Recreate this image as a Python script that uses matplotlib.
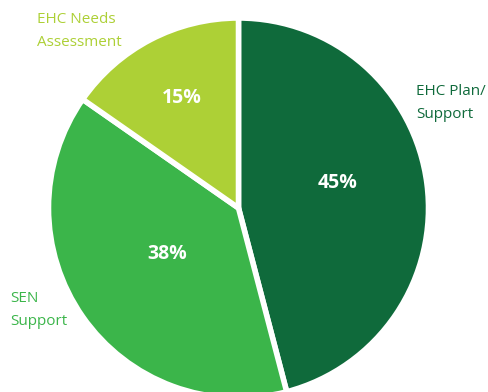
import numpy as np
import matplotlib
matplotlib.use('Agg')
import matplotlib.pyplot as plt

plt.rcParams['font.family'] = ['Open Sans', 'DejaVu Sans']

# slice data, clockwise from 12 o'clock
labels = ['EHC Plan/\nSupport', 'SEN\nSupport', 'EHC Needs\nAssessment']
values = [45, 38, 15]
colors = ['#0f6a3b', '#3bb54a', '#add036']
pct_xy = [(338, 183), (167, 254), (182, 98)]
label_xy = [(416, 103), (10, 310), (37, 31)]

W, H = 488, 392
fig = plt.figure(figsize=(W/100, H/100), dpi=100)
ax = fig.add_axes([0, 0, 1, 1])

cx, cy, r = 238.5, H - 208, 190
wedges, _ = ax.pie(values, colors=colors, startangle=90, counterclock=False,
                   center=(cx, cy), radius=r, frame=True,
                   wedgeprops=dict(edgecolor='white', linewidth=4))
ax.set_xlim(0, W)
ax.set_ylim(0, H)
ax.axis('off')

for v, (x, y) in zip(values, pct_xy):
    ax.text(x, H - y, '{}%'.format(v), color='white', fontsize=14,
            fontweight='bold', ha='center', va='center')

for lab, (x, y), c in zip(labels, label_xy, colors):
    ax.text(x, H - y, lab, color=c, fontsize=11, ha='left', va='center',
            linespacing=1.75)

fig.savefig('out.png', dpi=100)
